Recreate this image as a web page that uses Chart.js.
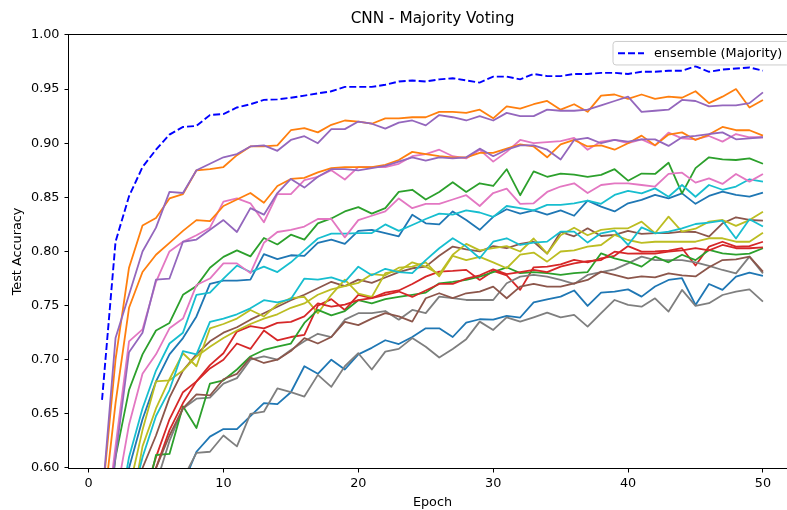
<!DOCTYPE html>
<html>
<head>
<meta charset="utf-8">
<script src="https://cdn.jsdelivr.net/npm/chart.js@4.4.1/dist/chart.umd.min.js"></script>
<style>
  html, body { margin: 0; padding: 0; background: #fff; overflow: hidden; }
  #wrap { width: 787px; height: 510px; overflow: hidden; position: relative; }
  canvas { display: block; }
</style>
</head>
<body>
<div id="wrap"><canvas id="c" width="800" height="510"></canvas></div>
<script>
// Epochs and tick values
const epochs = [1,2,3,4,5,6,7,8,9,10,11,12,13,14,15,16,17,18,19,20,21,22,23,24,25,26,27,28,29,30,31,32,33,34,35,36,37,38,39,40,41,42,43,44,45,46,47,48,49,50];
const xTicks = [0, 10, 20, 30, 40, 50];
const yTicks = [0.60, 0.65, 0.70, 0.75, 0.80, 0.85, 0.90, 0.95, 1.00];

// Majority-voting ensemble test accuracy
const ensembleAcc = [0.663,0.809,0.851,0.878,0.894,0.908,0.915,0.916,0.926,0.927,0.933,0.936,0.940,0.9405,0.942,0.944,0.946,0.948,0.952,0.952,0.952,0.954,0.957,0.958,0.957,0.959,0.960,0.958,0.956,0.9615,0.9615,0.959,0.964,0.962,0.962,0.964,0.964,0.965,0.965,0.964,0.966,0.966,0.967,0.967,0.971,0.966,0.968,0.969,0.970,0.967];

// Individual CNN test accuracies
const model1 = [0.45,0.53,0.60,0.645,0.68,0.705,0.72,0.74,0.770,0.773,0.773,0.774,0.7975,0.793,0.7965,0.796,0.808,0.811,0.807,0.819,0.820,0.817,0.814,0.834,0.826,0.825,0.837,0.829,0.820,0.832,0.839,0.835,0.838,0.834,0.838,0.833,0.847,0.8414,0.837,0.8445,0.8476,0.8522,0.849,0.8537,0.844,0.8513,0.8553,0.8522,0.8506,0.8543];
const model2 = [0.57,0.70,0.785,0.824,0.831,0.849,0.853,0.875,0.876,0.878,0.889,0.897,0.897,0.898,0.912,0.914,0.910,0.917,0.921,0.920,0.918,0.923,0.923,0.924,0.924,0.929,0.929,0.928,0.931,0.923,0.934,0.932,0.936,0.939,0.931,0.936,0.929,0.944,0.945,0.941,0.945,0.941,0.943,0.942,0.948,0.937,0.943,0.950,0.933,0.940];
const model3 = [0.50,0.61,0.672,0.705,0.727,0.734,0.76,0.768,0.785,0.795,0.801,0.7955,0.8125,0.8065,0.8155,0.811,0.826,0.8305,0.837,0.841,0.835,0.840,0.855,0.857,0.848,0.855,0.864,0.855,0.863,0.8605,0.876,0.852,0.874,0.869,0.872,0.871,0.869,0.8707,0.876,0.8654,0.872,0.8716,0.882,0.8537,0.877,0.887,0.885,0.8845,0.886,0.881];
const model4 = [0.40,0.47,0.53,0.57,0.61,0.645,0.67,0.68,0.692,0.70,0.715,0.71,0.727,0.718,0.721,0.723,0.750,0.756,0.746,0.760,0.757,0.762,0.764,0.770,0.7768,0.7814,0.782,0.783,0.7737,0.782,0.778,0.7645,0.7854,0.786,0.788,0.7922,0.790,0.7937,0.796,0.805,0.7998,0.800,0.8008,0.803,0.787,0.8045,0.809,0.8045,0.805,0.809];
const model5 = [0.57,0.72,0.76,0.80,0.822,0.855,0.854,0.875,0.881,0.887,0.890,0.897,0.898,0.893,0.903,0.9065,0.900,0.913,0.913,0.920,0.918,0.9135,0.919,0.921,0.9165,0.926,0.924,0.921,0.925,0.921,0.928,0.925,0.925,0.931,0.930,0.930,0.931,0.935,0.939,0.943,0.929,0.930,0.931,0.940,0.939,0.934,0.935,0.935,0.937,0.947];
const model6 = [0.42,0.50,0.56,0.60,0.63,0.665,0.69,0.705,0.717,0.725,0.730,0.737,0.743,0.749,0.755,0.760,0.766,0.772,0.768,0.774,0.771,0.776,0.781,0.7845,0.786,0.796,0.8045,0.802,0.800,0.805,0.803,0.807,0.809,0.798,0.818,0.814,0.8214,0.8143,0.8153,0.819,0.8162,0.817,0.817,0.8183,0.818,0.8137,0.826,0.8316,0.8291,0.8285];
const model7 = [0.52,0.62,0.717,0.728,0.772,0.80,0.809,0.815,0.822,0.846,0.849,0.8445,0.827,0.853,0.853,0.866,0.869,0.875,0.8665,0.878,0.878,0.878,0.881,0.888,0.890,0.894,0.888,0.886,0.894,0.883,0.892,0.903,0.900,0.901,0.902,0.905,0.894,0.9015,0.903,0.900,0.9036,0.898,0.9098,0.9045,0.9036,0.9067,0.9015,0.9085,0.9055,0.9055];
const model8 = [0.38,0.45,0.50,0.55,0.585,0.625,0.655,0.664,0.665,0.678,0.683,0.700,0.703,0.700,0.709,0.717,0.724,0.721,0.737,0.743,0.743,0.745,0.737,0.746,0.743,0.7583,0.757,0.7552,0.7552,0.7552,0.7706,0.7768,0.7783,0.7768,0.7737,0.770,0.7783,0.781,0.7835,0.789,0.7952,0.792,0.7921,0.7921,0.790,0.7866,0.7829,0.7798,0.7952,0.7798];
const model9 = [0.40,0.48,0.55,0.62,0.655,0.682,0.706,0.694,0.729,0.733,0.738,0.746,0.740,0.751,0.757,0.758,0.743,0.760,0.774,0.761,0.758,0.780,0.782,0.790,0.786,0.779,0.797,0.807,0.801,0.803,0.805,0.800,0.812,0.798,0.815,0.822,0.815,0.820,0.8214,0.8214,0.8276,0.8168,0.8322,0.8183,0.821,0.8276,0.8291,0.8236,0.829,0.8368];
const model10 = [0.45,0.54,0.61,0.655,0.69,0.715,0.725,0.76,0.762,0.775,0.787,0.781,0.786,0.781,0.790,0.801,0.812,0.8165,0.8165,0.817,0.817,0.825,0.819,0.8245,0.830,0.835,0.834,0.838,0.836,0.832,0.842,0.840,0.838,0.843,0.843,0.8445,0.847,0.844,0.8522,0.856,0.8537,0.8583,0.8506,0.8614,0.8506,0.8614,0.857,0.860,0.8667,0.8645];
const model11 = [0.35,0.40,0.45,0.49,0.52,0.55,0.585,0.615,0.629,0.636,0.636,0.648,0.66,0.659,0.670,0.694,0.687,0.700,0.691,0.705,0.711,0.718,0.7145,0.721,0.729,0.729,0.721,0.7343,0.7374,0.737,0.7405,0.739,0.753,0.7558,0.7583,0.764,0.7497,0.762,0.763,0.765,0.7583,0.7676,0.7737,0.7753,0.7506,0.770,0.7645,0.7768,0.7805,0.7774];
const model12 = [0.55,0.66,0.748,0.781,0.797,0.808,0.819,0.829,0.828,0.842,0.848,0.854,0.845,0.8605,0.867,0.868,0.873,0.877,0.878,0.878,0.878,0.880,0.8845,0.892,0.890,0.888,0.887,0.887,0.891,0.891,0.895,0.899,0.897,0.887,0.899,0.903,0.897,0.898,0.894,0.900,0.907,0.898,0.908,0.910,0.903,0.908,0.915,0.912,0.912,0.907];
const model13 = [0.40,0.45,0.51,0.56,0.612,0.613,0.657,0.637,0.678,0.681,0.691,0.703,0.709,0.712,0.715,0.734,0.746,0.741,0.745,0.755,0.752,0.756,0.758,0.760,0.762,0.7706,0.772,0.7737,0.7768,0.781,0.7854,0.780,0.781,0.780,0.7783,0.780,0.781,0.7983,0.7937,0.7906,0.786,0.7952,0.790,0.797,0.792,0.8014,0.7983,0.797,0.798,0.803];
const model14 = [0.40,0.46,0.52,0.565,0.60,0.635,0.66,0.68,0.695,0.706,0.726,0.731,0.729,0.734,0.735,0.740,0.752,0.749,0.751,0.755,0.757,0.760,0.763,0.758,0.764,0.770,0.770,0.775,0.778,0.7835,0.779,0.781,0.783,0.781,0.786,0.789,0.791,0.7921,0.7998,0.798,0.7983,0.798,0.7998,0.801,0.803,0.801,0.806,0.803,0.803,0.8038];
const model15 = [0.52,0.61,0.707,0.725,0.774,0.775,0.809,0.811,0.820,0.829,0.818,0.840,0.834,0.854,0.867,0.859,0.869,0.876,0.876,0.875,0.877,0.879,0.883,0.887,0.884,0.887,0.886,0.887,0.895,0.888,0.894,0.898,0.898,0.894,0.885,0.903,0.905,0.900,0.903,0.9015,0.9036,0.9036,0.8975,0.9055,0.9067,0.9085,0.910,0.9036,0.9045,0.9055];
const model16 = [0.38,0.45,0.51,0.56,0.60,0.63,0.655,0.668,0.667,0.682,0.687,0.702,0.697,0.700,0.708,0.720,0.715,0.721,0.735,0.732,0.738,0.743,0.740,0.7352,0.7568,0.7614,0.757,0.7614,0.763,0.7676,0.7568,0.7676,0.770,0.7676,0.7676,0.7706,0.7737,0.7814,0.7783,0.7752,0.777,0.776,0.7798,0.778,0.777,0.7854,0.7921,0.7927,0.7952,0.7814];
const model17 = [0.48,0.57,0.64,0.687,0.705,0.729,0.738,0.769,0.775,0.789,0.789,0.780,0.808,0.818,0.820,0.823,0.830,0.830,0.813,0.829,0.833,0.837,0.849,0.840,0.844,0.844,0.848,0.852,0.842,0.854,0.858,0.844,0.8445,0.855,0.860,0.863,0.854,0.8614,0.863,0.863,0.8614,0.860,0.8716,0.8728,0.8636,0.8676,0.8624,0.8716,0.8645,0.8716];
const model18 = [0.35,0.40,0.45,0.49,0.52,0.55,0.59,0.614,0.615,0.630,0.620,0.650,0.652,0.6735,0.670,0.666,0.686,0.675,0.694,0.706,0.691,0.7075,0.710,0.720,0.712,0.702,0.710,0.719,0.7352,0.7275,0.7392,0.7352,0.7392,0.7435,0.7392,0.7414,0.7306,0.743,0.7552,0.7506,0.749,0.7567,0.7445,0.7645,0.7497,0.7522,0.7598,0.763,0.765,0.7537];
const model19 = [0.42,0.52,0.58,0.635,0.68,0.681,0.69,0.703,0.712,0.720,0.727,0.733,0.738,0.742,0.748,0.752,0.760,0.765,0.768,0.771,0.779,0.778,0.785,0.786,0.790,0.777,0.796,0.792,0.795,0.790,0.7845,0.797,0.799,0.7906,0.800,0.801,0.8045,0.806,0.8153,0.8106,0.808,0.809,0.809,0.809,0.809,0.8122,0.8122,0.809,0.809,0.8174];
const model20 = [0.42,0.50,0.56,0.61,0.648,0.672,0.708,0.705,0.735,0.738,0.742,0.7475,0.755,0.753,0.756,0.775,0.774,0.776,0.772,0.786,0.778,0.784,0.781,0.780,0.792,0.803,0.8122,0.8045,0.7937,0.809,0.8122,0.806,0.8082,0.8091,0.8183,0.8183,0.8082,0.8168,0.8193,0.806,0.8223,0.8168,0.8183,0.8214,0.8254,0.8267,0.8285,0.812,0.8297,0.823];

const models = [model1, model2, model3, model4, model5, model6, model7, model8, model9, model10,
                model11, model12, model13, model14, model15, model16, model17, model18, model19, model20];
const palette = ['#1f77b4','#ff7f0e','#2ca02c','#d62728','#9467bd','#8c564b','#e377c2','#7f7f7f','#bcbd22','#17becf'];

const FONT = 'DejaVu Sans';
const toPoints = arr => epochs.map((e, i) => ({ x: e, y: arr[i] }));

const datasets = [{
  label: 'ensemble (Majority)',
  data: toPoints(ensembleAcc),
  borderColor: '#0000ff',
  borderWidth: 1.9,
  borderDash: [7, 3],
  pointRadius: 0,
  fill: false,
  clip: 0,
  order: 0
}];
models.forEach((arr, i) => {
  datasets.push({
    label: 'model ' + (i + 1),
    data: toPoints(arr),
    borderColor: palette[i % 10],
    borderWidth: 1.8,
    borderJoinStyle: 'round',
    pointRadius: 0,
    fill: false,
    clip: 0,
    order: models.length - i
  });
});

// Axes frame and in-plot legend box
const framePlugin = {
  id: 'frame',
  afterDatasetsDraw(chart) {
    const { ctx, chartArea: a } = chart;
    ctx.save();
    ctx.strokeStyle = '#000';
    ctx.lineWidth = 1;
    ctx.strokeRect(Math.round(a.left) - 0.5, Math.round(a.top) - 0.5,
                   Math.round(a.right - a.left) + 1, Math.round(a.bottom - a.top) + 1);

    // legend
    const fs = 12.8;
    const bx = a.right - 183, by = a.top + 6.5, bw = 176.5, bh = 23.5, r = 3;
    ctx.beginPath();
    ctx.moveTo(bx + r, by);
    ctx.lineTo(bx + bw - r, by); ctx.arcTo(bx + bw, by, bx + bw, by + r, r);
    ctx.lineTo(bx + bw, by + bh - r); ctx.arcTo(bx + bw, by + bh, bx + bw - r, by + bh, r);
    ctx.lineTo(bx + r, by + bh); ctx.arcTo(bx, by + bh, bx, by + bh - r, r);
    ctx.lineTo(bx, by + r); ctx.arcTo(bx, by, bx + r, by, r);
    ctx.closePath();
    ctx.fillStyle = 'rgba(255,255,255,0.8)';
    ctx.fill();
    ctx.strokeStyle = '#cccccc';
    ctx.lineWidth = 1;
    ctx.stroke();

    const ly = by + bh / 2;
    ctx.beginPath();
    ctx.setLineDash([7, 3]);
    ctx.strokeStyle = '#0000ff';
    ctx.lineWidth = 1.9;
    ctx.moveTo(bx + 5, ly);
    ctx.lineTo(bx + 31, ly);
    ctx.stroke();
    ctx.setLineDash([]);

    ctx.fillStyle = '#000';
    ctx.font = fs + 'px "' + FONT + '"';
    ctx.textBaseline = 'middle';
    ctx.textAlign = 'left';
    ctx.fillText('ensemble (Majority)', bx + 41, ly + 0.5);
    ctx.restore();
  }
};

new Chart(document.getElementById('c'), {
  type: 'line',
  data: { datasets },
  plugins: [framePlugin],
  options: {
    responsive: false,
    animation: false,
    devicePixelRatio: 1,
    events: [],
    layout: { padding: { left: 0, right: 4, top: 0, bottom: 0 } },
    plugins: {
      legend: { display: false },
      tooltip: { enabled: false },
      title: {
        display: true,
        text: 'CNN - Majority Voting',
        fullSize: false,
        color: '#000',
        font: { family: FONT, size: 15.3, weight: 'normal', lineHeight: 1.2 },
        padding: { top: 9.9, bottom: 6.7 }
      }
    },
    scales: {
      x: {
        type: 'linear',
        min: -1.45,
        max: 52.45,
        afterFit(s) { s.height = 42; },
        afterBuildTicks(s) { s.ticks = xTicks.map(v => ({ value: v })); },
        border: { display: false },
        grid: { drawOnChartArea: false, drawTicks: true, tickLength: 4.5, tickColor: '#000', color: '#000', lineWidth: 1 },
        ticks: { color: '#000', font: { family: FONT, size: 12.8 }, padding: 3, maxRotation: 0,
                 callback: v => String(v) },
        title: { display: true, text: 'Epoch', color: '#000',
                 font: { family: FONT, size: 12.8, lineHeight: 1.2 }, padding: { top: 0, bottom: 0 } }
      },
      y: {
        type: 'linear',
        min: 0.6,
        max: 1.0,
        afterFit(s) { s.width = 69; },
        afterBuildTicks(s) { s.ticks = yTicks.map(v => ({ value: v })); },
        border: { display: false },
        grid: { drawOnChartArea: false, drawTicks: true, tickLength: 4.5, tickColor: '#000', color: '#000', lineWidth: 1 },
        ticks: { color: '#000', font: { family: FONT, size: 12.8 }, padding: 5,
                 callback: v => Number(v).toFixed(2) },
        title: { display: true, text: 'Test Accuracy', color: '#000',
                 font: { family: FONT, size: 12.8, lineHeight: 1.2 }, padding: { top: 10, bottom: 0 } }
      }
    }
  }
});
</script>
</body>
</html>
